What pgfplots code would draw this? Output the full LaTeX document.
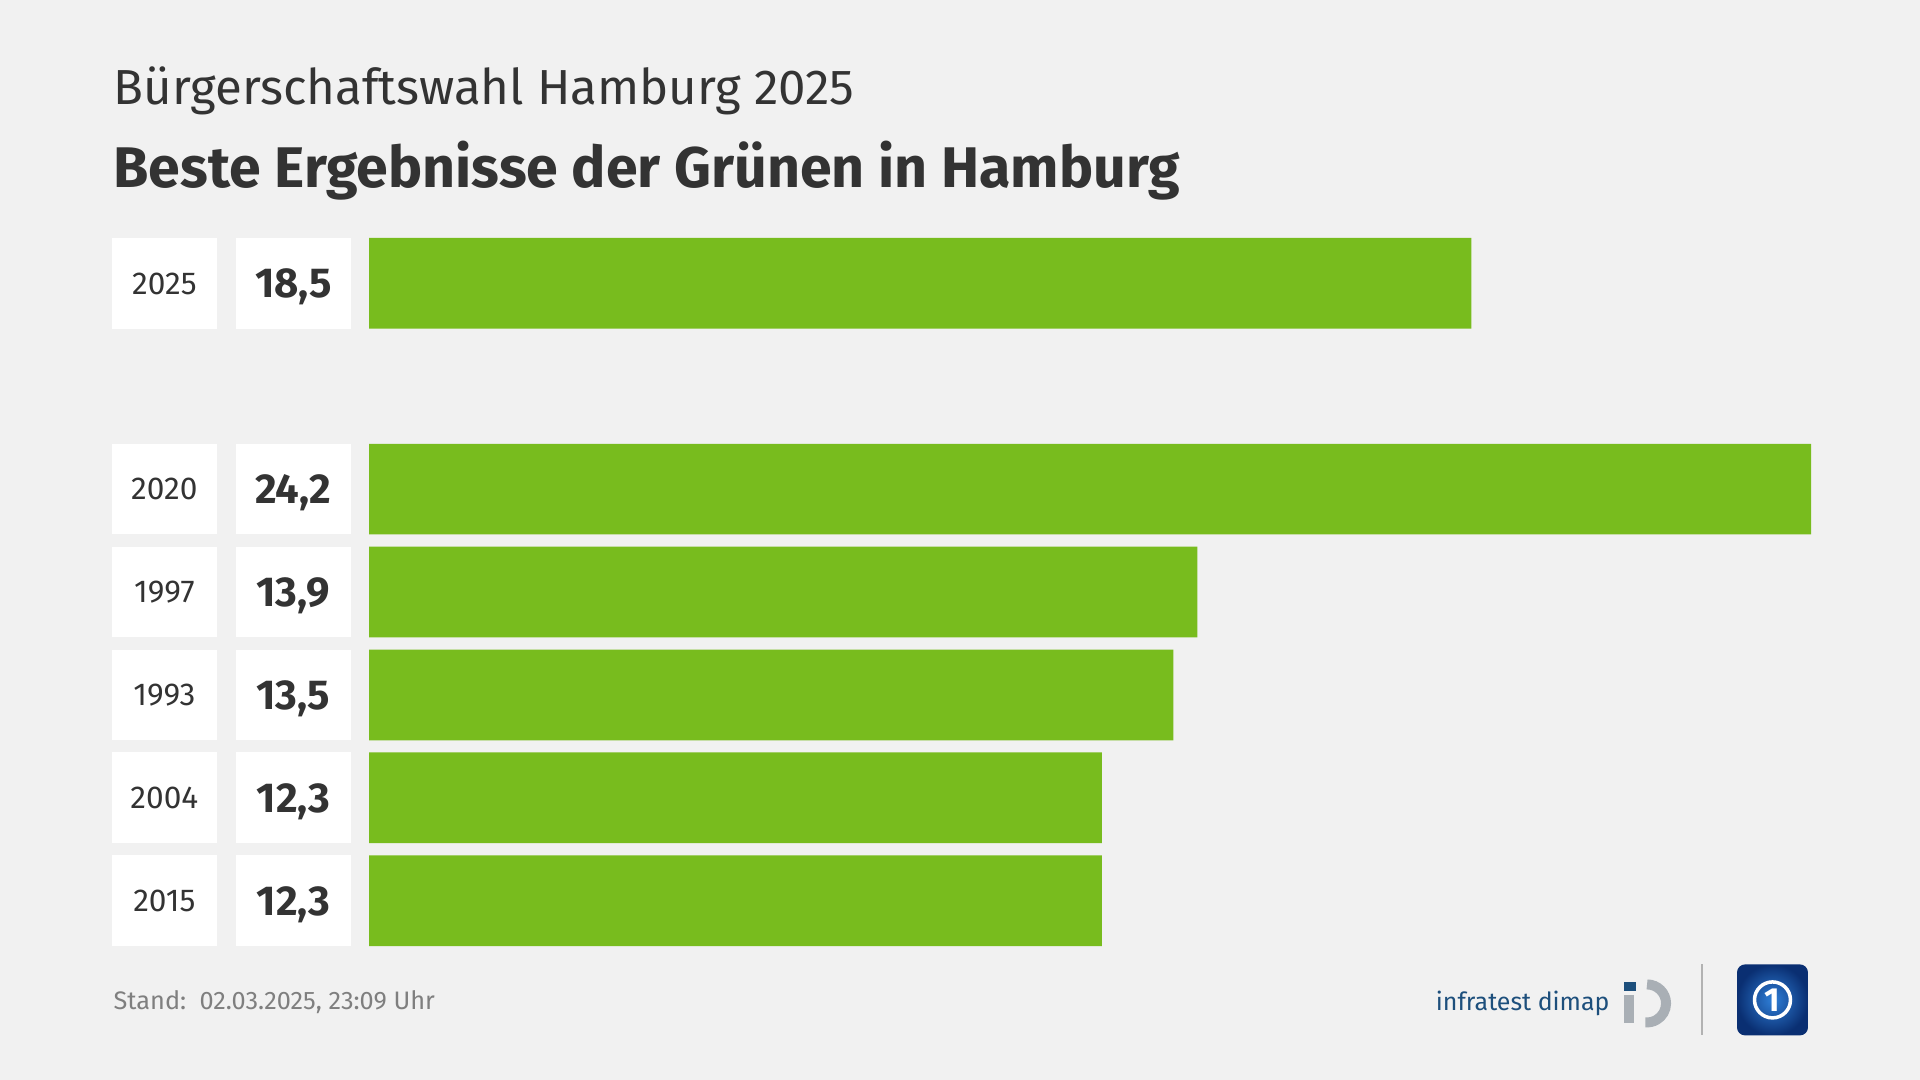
\documentclass[border=0pt]{standalone}
\usepackage{pgfplots}
\pgfplotsset{compat=1.18}
\usepackage{fontspec}
\setmainfont{Fira Sans}
\definecolor{bg}{HTML}{F1F1F1}
\definecolor{grn}{HTML}{78BC1E}
\definecolor{txt}{HTML}{333333}
\definecolor{foot}{HTML}{7F7F7F}
\definecolor{idblue}{HTML}{1D4F7C}
\definecolor{idgray}{HTML}{A9AFB5}
\definecolor{tsdark}{HTML}{0A2F72}
\definecolor{tslight}{HTML}{2F7FD8}
\begin{document}
\begin{tikzpicture}
\path[fill=bg] (0,0) rectangle (19.2cm,10.8cm);
\begin{scope}[x=0.01cm, y=-0.01cm, shift={(0,10.8cm)}]
  \node[anchor=base west, inner sep=0, text=txt, font=\fontsize{14}{16}\selectfont] at (113,105) {Bürgerschaftswahl Hamburg 2025};
  \node[anchor=base west, inner sep=0, text=txt, font=\fontsize{16.3}{19}\selectfont\bfseries] at (113,188) {Beste Ergebnisse der Grünen in Hamburg};
  \node[anchor=base west, inner sep=0, text=foot, font=\fontsize{7.2}{9}\selectfont] at (113,1010) {Stand:\ \ 02.03.2025, 23:09 Uhr};
  % infratest dimap logo
  \node[anchor=base west, inner sep=0, text=idblue, font=\fontsize{7.1}{9}\selectfont] at (1436,1011) {infratest dimap};
  \fill[idblue] (1625,983) rectangle (1637,992);
  \draw[idgray, line width=0.1cm] (1648,985) arc[start angle=-90, end angle=95, radius=19];
  \fill[idgray] (1625,996) rectangle (1635,1024);
  % separator
  \draw[gray!60, line width=0.02cm] (1703,965) -- (1703,1036);
  % tagesschau-like logo
  \shade[rounded corners=0.08cm, inner color=tslight, outer color=tsdark] (1738,965) rectangle (1809,1036);
  \draw[white, line width=0.035cm] (1773.5,1000.5) circle[radius=18];
  \node[text=white, font=\fontsize{9.5}{9.5}\selectfont\bfseries, inner sep=0] at (1773.5,1001) {1};
\end{scope}
\begin{axis}[
  at={(3.69cm,1.2785cm)}, anchor=south west,
  scale only axis, width=14.42cm, height=7.203cm,
  xmin=0, xmax=24.2, ymin=-0.5, ymax=6.5, y dir=reverse,
  xbar, bar width=0.907cm, bar shift=0pt,
  hide x axis, axis y line*=left, y axis line style={draw=none},
  ytick={0,2,3,4,5,6},
  yticklabels={2025,2020,1997,1993,2004,2015},
  major tick length=0pt, clip=false,
  yticklabel style={anchor=center, xshift=-2.0465cm, fill=white,
    minimum width=1.047cm, minimum height=0.907cm, inner sep=0pt,
    text depth=0pt,
    font=\fontsize{9}{10}\selectfont, text=txt},
  extra y ticks={0,2,3,4,5,6},
  extra y tick labels={{18,5},{24,2},{13,9},{13,5},{12,3},{12,3}},
  extra y tick style={yticklabel style={xshift=1.29cm, minimum width=1.147cm,
    font=\fontsize{11.9}{13}\selectfont\bfseries}},
]
\addplot[fill=grn, draw=none] coordinates {(18.5,0) (24.2,2) (13.9,3) (13.5,4) (12.3,5) (12.3,6)};
\end{axis}
\end{tikzpicture}
\end{document}
